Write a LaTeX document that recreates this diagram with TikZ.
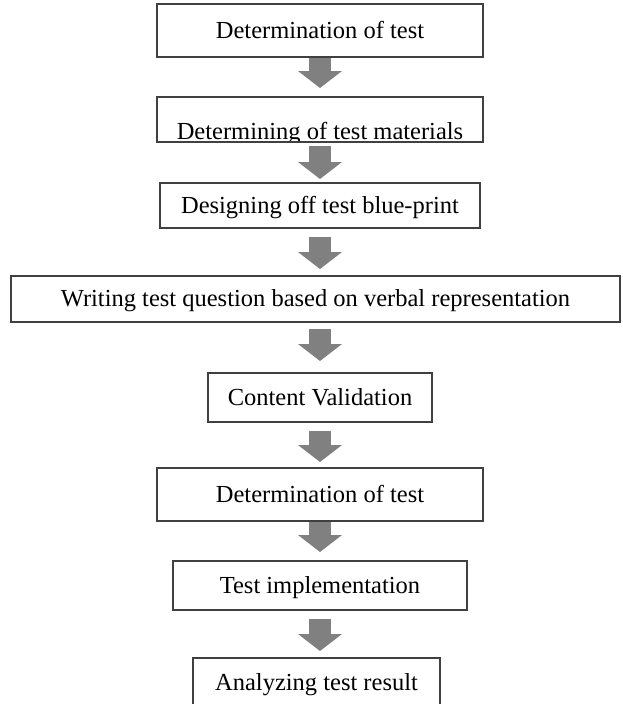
\documentclass[tikz,border=0pt]{standalone}
\usepackage{fontspec}
\setmainfont{Liberation Serif}
\usetikzlibrary{arrows.meta}
\definecolor{boxgray}{RGB}{64, 64, 64}
\definecolor{arrowgray}{RGB}{128, 128, 128}
\tikzset{
	stepbox/.style={draw=boxgray, line width=2pt, inner sep=0pt, text height=16.2pt, text depth=0pt, font=\fontsize{24.5}{29}\selectfont},
	flowarrow/.style={draw=arrowgray, line width=22pt, -{Triangle[width=44pt, length=17pt, line width=0pt]}}
}

\begin{document}
\begin{tikzpicture}[x=1pt, y=-1pt]
	\useasboundingbox (0,0) rectangle (622,704);
	\clip (0,0) rectangle (622,704);
	\node[stepbox, minimum width=326pt, minimum height=53pt] (det1) at (320,30.5) {Determination of test};
	\begin{scope}
		\clip (157,98) rectangle (483,141);
		\node[anchor=base, inner sep=0pt, font=\fontsize{24.5}{29}\selectfont] (mattext) at (320,139.5) {Determining of test materials};
	\end{scope}
	\node[stepbox, minimum width=326pt, minimum height=45pt] (mat) at (320,119.5) {};
	\node[stepbox, minimum width=320pt, minimum height=45pt] (blue) at (320,205.5) {Designing off test blue-print};
	\node[stepbox, minimum width=609pt, minimum height=46.5pt] (writ) at (315.5,298.75) {Writing test question based on verbal representation};
	\node[stepbox, minimum width=224pt, minimum height=49pt] (valid) at (320,397.5) {Content Validation};
	\node[stepbox, minimum width=326pt, minimum height=53pt] (det2) at (320,494.5) {Determination of test};
	\node[stepbox, minimum width=294pt, minimum height=49pt] (impl) at (320,585.5) {Test implementation};
	\node[stepbox, minimum width=247pt, minimum height=48pt] (anal) at (316.5,682) {Analyzing test result};
	\draw[flowarrow, shorten >=8pt] (det1) -- (mat);
	\draw[flowarrow, shorten <=3pt, shorten >=3pt] (mat) -- (blue);
	\draw[flowarrow, shorten <=8pt, shorten >=5.5pt] (blue.south) -- (blue.south |- writ.north);
	\draw[flowarrow, shorten <=6pt, shorten >=11pt] (valid.north |- writ.south) -- (valid.north);
	\draw[flowarrow, shorten <=8pt, shorten >=5pt] (valid) -- (det2);
	\draw[flowarrow, shorten >=8pt] (det2) -- (impl);
	\draw[flowarrow, shorten <=8pt, shorten >=6pt] (impl.south) -- (impl.south |- anal.north);
\end{tikzpicture}
\end{document}
